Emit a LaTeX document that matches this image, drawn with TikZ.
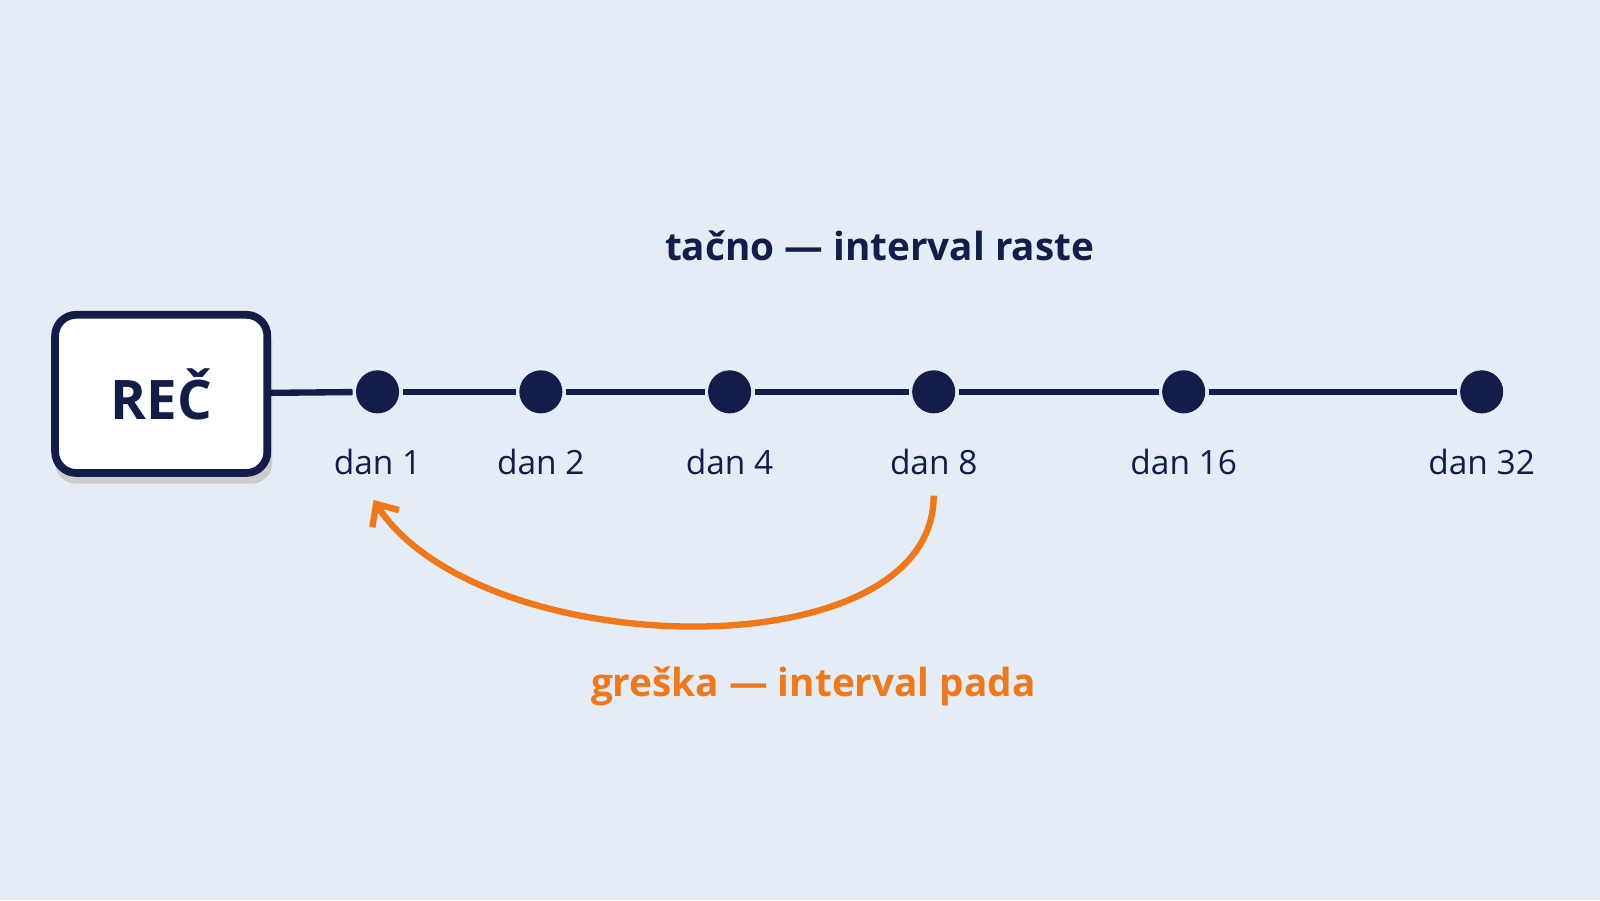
\documentclass[tikz,border=0pt]{standalone}
\usepackage{fontspec}
\setmainfont{Open Sans}
\usetikzlibrary{positioning,arrows.meta}
\definecolor{bgblue}{HTML}{E4ECF6}
\definecolor{navy}{HTML}{141C4A}
\definecolor{rust}{HTML}{F07818}
\begin{document}
\begin{tikzpicture}[x=0.0102cm, y=-0.0102cm,
    dot/.style={circle, fill=navy, minimum size=0.43cm, inner sep=0pt, outer sep=1pt},
    day/.style={font=\fontsize{9.5pt}{11pt}\selectfont, text=navy},
    link/.style={navy, line width=1.8pt}]
    % pozadina
    \fill[bgblue] (0,0) rectangle (1568,882);
    \useasboundingbox (0,0) rectangle (1568,882);

    % kartica
    \fill[gray!40, rounded corners=6pt] (54,316) rectangle (267,474);
    \node[draw=navy, line width=2.2pt, fill=white, rounded corners=6pt, minimum width=2.12cm, minimum height=1.58cm,
          font=\fontsize{15.5pt}{17pt}\selectfont\bfseries, text=navy] (rec) at (158,386) {REČ};

    % tacke na liniji
    \foreach \x/\d in {370/1, 530/2, 715/4, 915/8, 1160/16, 1452/32} {
        \node[dot] (d\d) at (\x,384) {};
        \node[day, below=0.2cm of d\d] (l\d) {dan \d};
    }
    \draw[link] (rec) -- (d1);
    \draw[link] (d1) -- (d2);
    \draw[link] (d2) -- (d4);
    \draw[link] (d4) -- (d8);
    \draw[link] (d8) -- (d16);
    \draw[link] (d16) -- (d32);

    % natpisi
    \node[font=\fontsize{11pt}{13pt}\selectfont\bfseries, text=navy] (ok) at (862,241) {tačno — interval raste};
    \node[font=\fontsize{11pt}{13pt}\selectfont\bfseries, text=rust] (err) at (797,673) {greška — interval pada};

    % povratak
    \draw[rust, line width=1.8pt, -{Straight Barb[length=5pt,width=9pt]}]
        (l8.south) ++(0,8) .. controls (915,660) and (470,650) .. (366,490);
\end{tikzpicture}
\end{document}
